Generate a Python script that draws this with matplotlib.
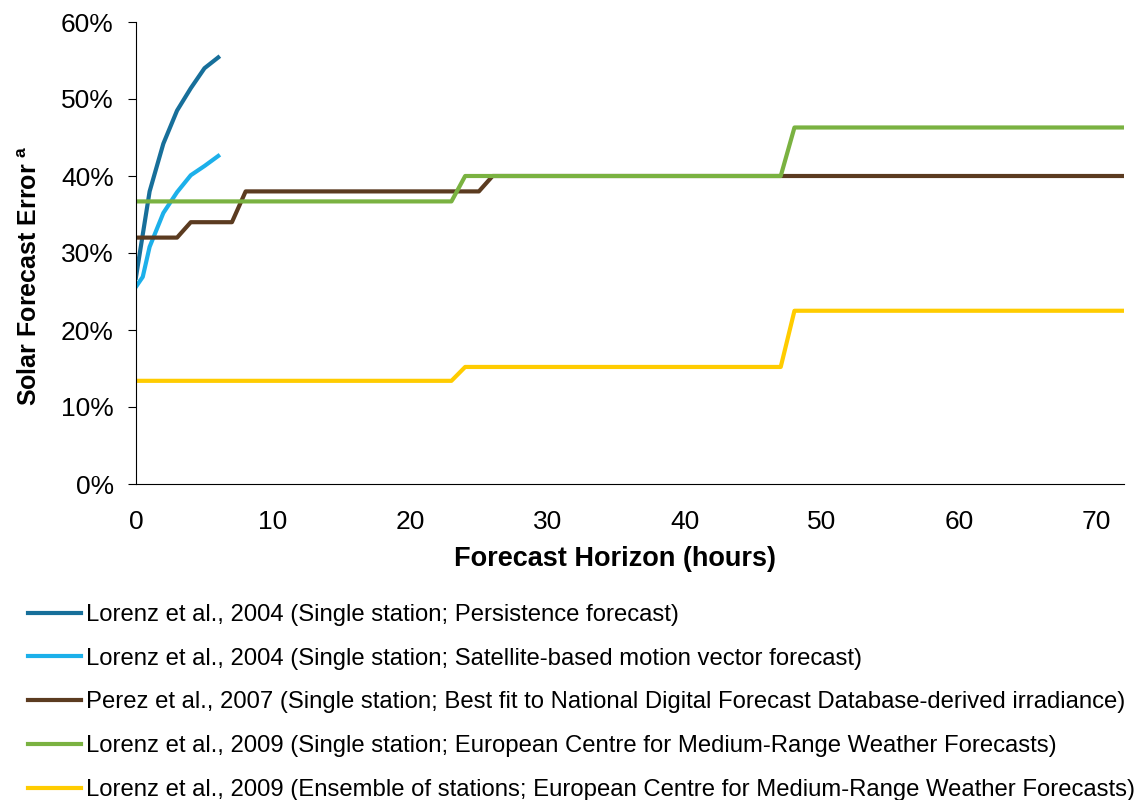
import matplotlib.pyplot as plt
from matplotlib.ticker import PercentFormatter

plt.rcParams['font.family'] = ['Liberation Sans', 'DejaVu Sans']

# Lorenz et al., 2004 - persistence
pers_x = [0, 1, 2, 3, 4, 5, 6]
pers_y = [26.8, 38.0, 44.2, 48.5, 51.4, 54.0, 55.4]

# Lorenz et al., 2004 - satellite motion vector
sat_x = [0, 0.5, 1, 2, 3, 4, 5, 6]
sat_y = [25.6, 26.9, 30.8, 35.2, 37.9, 40.1, 41.3, 42.6]

# Perez et al., 2007
perez_x = [0, 3, 4, 7, 8, 25, 26, 72]
perez_y = [32.0, 32.0, 34.0, 34.0, 38.0, 38.0, 40.0, 40.0]

# Lorenz et al., 2009 - single station
ecmwf_x = [0, 23, 24, 47, 48, 72]
ecmwf_y = [36.7, 36.7, 40.0, 40.0, 46.3, 46.3]

# Lorenz et al., 2009 - ensemble
ens_x = [0, 23, 24, 47, 48, 72]
ens_y = [13.4, 13.4, 15.2, 15.2, 22.5, 22.5]

labels = [
    'Lorenz et al., 2004 (Single station; Persistence forecast)',
    'Lorenz et al., 2004 (Single station; Satellite-based motion vector forecast)',
    'Perez et al., 2007 (Single station; Best fit to National Digital Forecast Database-derived irradiance)',
    'Lorenz et al., 2009 (Single station; European Centre for Medium-Range Weather Forecasts)',
    'Lorenz et al., 2009 (Ensemble of stations; European Centre for Medium-Range Weather Forecasts)',
]
colors = ['#176f9a', '#1cb0ea', '#5b3b20', '#7ab241', '#ffcc00']

fig = plt.figure(figsize=(11.42, 8), dpi=100)
ax = fig.add_axes([0.119, 0.395, 0.865, 0.5775])

series = [(pers_x, pers_y), (sat_x, sat_y), (perez_x, perez_y),
          (ecmwf_x, ecmwf_y), (ens_x, ens_y)]
for (x, y), c, lab in zip(series, colors, labels):
    ax.plot(x, y, color=c, linewidth=3, label=lab)

ax.set_xlim(0, 72)
ax.set_ylim(0, 60)
ax.set_xticks(range(0, 71, 10))
ax.set_yticks(range(0, 61, 10))
ax.yaxis.set_major_formatter(PercentFormatter(decimals=0))
ax.tick_params(axis='y', direction='out', length=6, labelsize=19, pad=10)
ax.tick_params(axis='x', length=0, labelsize=19, pad=19)
for s in ['top', 'right']:
    ax.spines[s].set_visible(False)

ax.set_xlabel('Forecast Horizon (hours)', fontsize=19.5, fontweight='bold')
ax.xaxis.set_label_coords(0.485, -0.135)
ax.set_ylabel(r'Solar Forecast Error $^{\mathregular{a}}$', fontsize=18,
              fontweight='bold')
ax.yaxis.set_label_coords(-0.095, 0.45)

fig.legend(loc='upper left', bbox_to_anchor=(0.0165, 0.257), frameon=False,
           fontsize=17.2, handlelength=2.2, handletextpad=0.2, labelspacing=0.91,
           borderaxespad=0)

fig.savefig('out.png', dpi=100)
